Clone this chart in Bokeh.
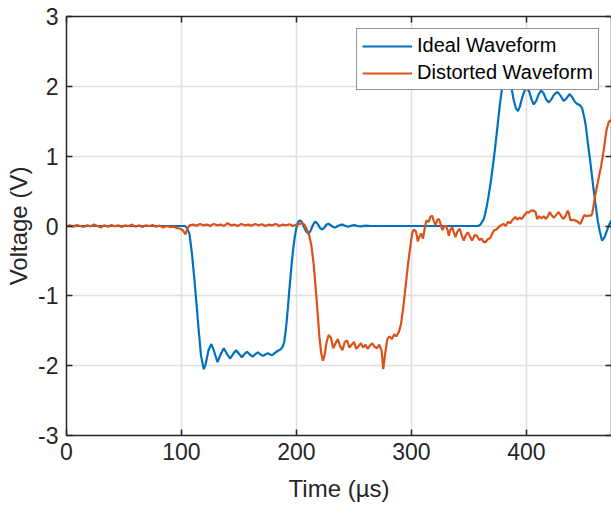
from bokeh.plotting import figure
from bokeh.models import Range1d, LinearAxis, FixedTicker, Legend, LegendItem
from bokeh.embed import file_html
from bokeh.resources import INLINE

# ---------------- data ----------------
ideal_t = [0, 50, 100, 103, 105, 107, 109, 111, 113, 115, 117, 119.4, 121, 123.5, 126,
           128.5, 131.3, 134, 136.8, 139.5, 142.3, 145, 147.5, 150, 152.5, 155, 157,
           159.5, 162, 164, 166.4, 168.7, 171, 173, 175, 177, 179, 181, 183.5, 186, 188,
           189.5, 191, 192.5, 194, 195.5, 197, 198.5, 200, 201.5, 203, 204.5, 206.5,
           208.5, 210.7, 212.5, 214.5, 216.5, 218.5, 220.5, 222.3, 224.5, 226, 228, 230,
           232, 234, 236, 238, 240, 242, 245, 248, 250.5, 253, 256, 260, 265, 300, 358,
           360, 363, 365, 367, 369, 371, 373, 375, 377, 379, 381, 383, 385, 387, 389, 391,
           392.7, 394.5, 396.5, 398.5, 400.6, 402.5, 404.5, 406.4, 408.5, 410.7, 412.8,
           415, 417.2, 419.4, 421.5, 424, 427, 429.5, 432.3, 434.5, 437.5, 440, 442, 444,
           446.5, 448.4, 450, 451.5, 453.5, 455.7, 458, 460, 462, 463.8, 465.8, 468,
           470.2, 472, 474]
ideal_v = [0, 0, 0, 0, -0.03, -0.12, -0.38, -0.72, -1.10, -1.50, -1.86, -2.05, -1.98,
           -1.78, -1.69, -1.80, -1.95, -1.84, -1.75, -1.83, -1.90, -1.83, -1.78, -1.83,
           -1.88, -1.83, -1.80, -1.84, -1.87, -1.84, -1.81, -1.84, -1.86, -1.84, -1.82,
           -1.84, -1.85, -1.82, -1.79, -1.77, -1.73, -1.65, -1.45, -1.18, -0.88, -0.60,
           -0.35, -0.16, -0.02, 0.06, 0.08, 0.06, -0.01, -0.08, -0.11, -0.06, 0.02, 0.065,
           0.03, -0.03, -0.05, -0.02, 0.02, 0.03, 0.01, -0.015, -0.02, 0.0, 0.015, 0.02,
           0.005, -0.01, 0.005, 0.012, 0.0, -0.005, 0.005, 0, 0, 0,
           0.02, 0.10, 0.24, 0.42, 0.63, 0.88, 1.15, 1.45, 1.75, 2.0, 2.13, 2.2, 2.15,
           1.98, 1.80, 1.68, 1.645, 1.72, 1.85, 1.94, 1.98, 1.92, 1.81, 1.74, 1.79, 1.89,
           1.94, 1.90, 1.81, 1.77, 1.81, 1.88, 1.92, 1.87, 1.79, 1.82, 1.89, 1.84, 1.78,
           1.75, 1.73, 1.69, 1.58, 1.45, 1.18, 0.90, 0.58, 0.32, 0.08, -0.08, -0.21,
           -0.16, -0.06, 0.02, 0.08]

dist_t = [0, 3, 6, 9, 12, 15, 18, 21, 24, 27, 30, 33, 36, 39, 42, 45, 48, 51, 54, 57,
          60, 63, 66, 69, 72, 75, 78, 81, 84, 87, 90, 93, 96, 99, 101, 103.5, 105, 107,
          110, 113, 116, 119, 122, 125, 128, 131, 134, 137, 140, 143, 146, 149, 152, 155,
          158, 161, 164, 167, 170, 173, 176, 179, 182, 185, 188, 191, 194, 197, 200, 203,
          205, 207, 209, 211, 213, 215, 217, 218.5, 220, 221.5, 223, 224.5, 226, 228,
          230, 232, 234, 236, 238, 240, 242, 244, 246, 248, 250, 252, 254, 256, 258, 260,
          262, 264, 266, 268, 270, 272, 274, 275.5, 277, 279, 281, 283, 285, 287, 289,
          291, 293, 295, 297, 299, 300.6, 302, 304, 305.5, 307, 308.5, 310, 311.5, 313,
          315, 316.5, 318, 319.5, 321, 322.5, 324, 325.5, 327, 328.5, 330, 331.5, 332.5,
          334, 335.5, 337, 338.3, 340, 342, 344, 345.5, 347, 349, 351, 352.8, 355, 357,
          359, 361, 362.9, 364.5, 366.5, 368.7, 370.5, 372, 374, 376, 378, 380, 382, 384,
          386, 388, 390.4, 392, 394, 396, 398, 400.6, 402, 404, 406.4, 408, 409.3, 411,
          413, 415, 417, 419, 420.3, 422, 424, 426, 428, 430, 432, 434, 435.9, 437, 438.3,
          440, 442, 444, 446, 447, 448.5, 450.4, 452, 454, 456, 457.1, 458.5, 460, 461.5,
          463, 465, 467.2, 469.6, 471.6, 474]
dist_v = [0.0, 0.01, -0.01, 0.015, 0.0, -0.015, 0.01, -0.005, 0.02, 0.0, -0.02, 0.01,
          -0.01, 0.015, -0.005, 0.01, -0.015, 0.01, 0.0, 0.02, -0.01, 0.01, -0.015, 0.01,
          0.0, 0.015, -0.01, 0.005, -0.02, 0.0, -0.015, -0.01, -0.03, -0.04, -0.06, -0.12,
          -0.04, 0.01, 0.02, 0.005, 0.03, 0.01, 0.02, 0.0, 0.03, 0.01, 0.02, 0.0, 0.04,
          0.01, 0.02, 0.0, 0.03, 0.01, 0.02, 0.005, 0.03, 0.01, 0.025, 0.0, 0.02, 0.01,
          0.03, 0.0, 0.02, 0.01, 0.025, 0.0, 0.02, 0.03, 0.04, 0.02, -0.05, -0.13, -0.28,
          -0.55, -0.95, -1.26, -1.60, -1.82, -1.93, -1.85, -1.68, -1.56, -1.60, -1.75,
          -1.68, -1.62, -1.72, -1.78, -1.66, -1.64, -1.74, -1.70, -1.66, -1.76, -1.72,
          -1.68, -1.74, -1.70, -1.76, -1.71, -1.68, -1.73, -1.75, -1.70, -1.78, -2.05,
          -1.85, -1.62, -1.58, -1.62, -1.55, -1.58, -1.52, -1.40, -1.15, -0.85, -0.55,
          -0.30, -0.11, -0.05, -0.08, -0.22, -0.15, -0.11, -0.18, -0.04, 0.08, 0.06, 0.13,
          0.15, 0.07, 0.01, 0.09, 0.10, 0.02, -0.06, 0.0, 0.0, -0.06, -0.14, -0.05, -0.02,
          -0.10, -0.16, -0.08, -0.04, -0.15, -0.21, -0.14, -0.09, -0.15, -0.21, -0.13,
          -0.14, -0.20, -0.18, -0.23, -0.23, -0.19, -0.17, -0.10, -0.06, -0.05, -0.01,
          0.01, 0.03, 0.0, 0.06, 0.04, 0.09, 0.13, 0.09, 0.12, 0.10, 0.15, 0.20, 0.19,
          0.22, 0.22, 0.20, 0.10, 0.14, 0.11, 0.14, 0.10, 0.15, 0.20, 0.15, 0.12, 0.16,
          0.20, 0.15, 0.10, 0.14, 0.22, 0.18, 0.08, 0.09, 0.08, 0.07, 0.04, 0.03, 0.09,
          0.16, 0.14, 0.15, 0.15, 0.17, 0.30, 0.45, 0.58, 0.70, 0.86, 1.08, 1.37, 1.49,
          1.52]

x_ticks = [0, 100, 200, 300, 400]
y_ticks = [-3, -2, -1, 0, 1, 2, 3]
y_tick_labels = ["-3", "-2", "-1", "0", "1", "2", "3"]
series_names = ["Ideal Waveform", "Distorted Waveform"]
series_colors = ["#0072BD", "#D95319"]

FONT = "Liberation Sans"
AX = "#262626"

p = figure(width=611, height=509, output_backend="svg", toolbar_location=None,
           x_range=Range1d(0, 474), y_range=Range1d(-3, 3),
           min_border_left=66, min_border_right=0, min_border_top=16,
           min_border_bottom=74,
           x_axis_label="Time (µs)", y_axis_label="Voltage (V)")
p.outline_line_color = None
p.background_fill_color = "white"

for ax, ticks in ((p.xaxis[0], x_ticks), (p.yaxis[0], y_ticks)):
    ax.ticker = FixedTicker(ticks=ticks)
    ax.major_tick_in = 6
    ax.major_tick_out = 0
    ax.minor_tick_line_color = None
    ax.axis_line_color = AX
    ax.axis_line_width = 1.5
    ax.major_tick_line_color = AX
    ax.major_tick_line_width = 1.5
    ax.major_label_text_font = FONT
    ax.major_label_text_font_size = "23px"
    ax.major_label_text_color = AX
    ax.axis_label_text_font = FONT
    ax.axis_label_text_font_size = "24px"
    ax.axis_label_text_font_style = "normal"
    ax.axis_label_text_color = AX
p.yaxis.major_label_overrides = {t: s for t, s in zip(y_ticks, y_tick_labels)}
p.xaxis.major_label_standoff = 7
p.xaxis.axis_label_standoff = 12
p.yaxis.major_label_standoff = 8
p.yaxis.axis_label_standoff = 3

# box axes (top / right) with inward ticks, blank labels
for loc, ticks in (("above", x_ticks), ("right", y_ticks)):
    a = LinearAxis(ticker=FixedTicker(ticks=ticks), major_tick_in=6, major_tick_out=0,
                   minor_tick_line_color=None, axis_line_color=AX, axis_line_width=1.5,
                   major_tick_line_color=AX, major_tick_line_width=1.5,
                   major_label_overrides={t: "" for t in ticks},
                   major_label_text_font_size="8px", major_label_standoff=0)
    p.add_layout(a, loc)

p.xgrid.ticker = FixedTicker(ticks=x_ticks)
p.ygrid.ticker = FixedTicker(ticks=y_ticks)
p.grid.grid_line_color = "#e0e0e0"
p.grid.grid_line_width = 1.6

r1 = p.line(ideal_t, ideal_v, line_color=series_colors[0], line_width=2.2)
r2 = p.line(dist_t, dist_v, line_color=series_colors[1], line_width=2.2)

legend = Legend(items=[LegendItem(label=series_names[0], renderers=[r1]),
                       LegendItem(label=series_names[1], renderers=[r2])],
                location="top_right", margin=12)
legend.label_text_font = FONT
legend.label_text_font_size = "20px"
legend.label_text_color = "black"
legend.glyph_width = 50
legend.glyph_height = 22
legend.label_height = 22
legend.label_standoff = 5
legend.spacing = 4
legend.padding = 5
legend.border_line_color = AX
legend.border_line_width = 1.5
legend.background_fill_alpha = 1.0
p.add_layout(legend)

open("out.html", "w").write(file_html(p, INLINE))
